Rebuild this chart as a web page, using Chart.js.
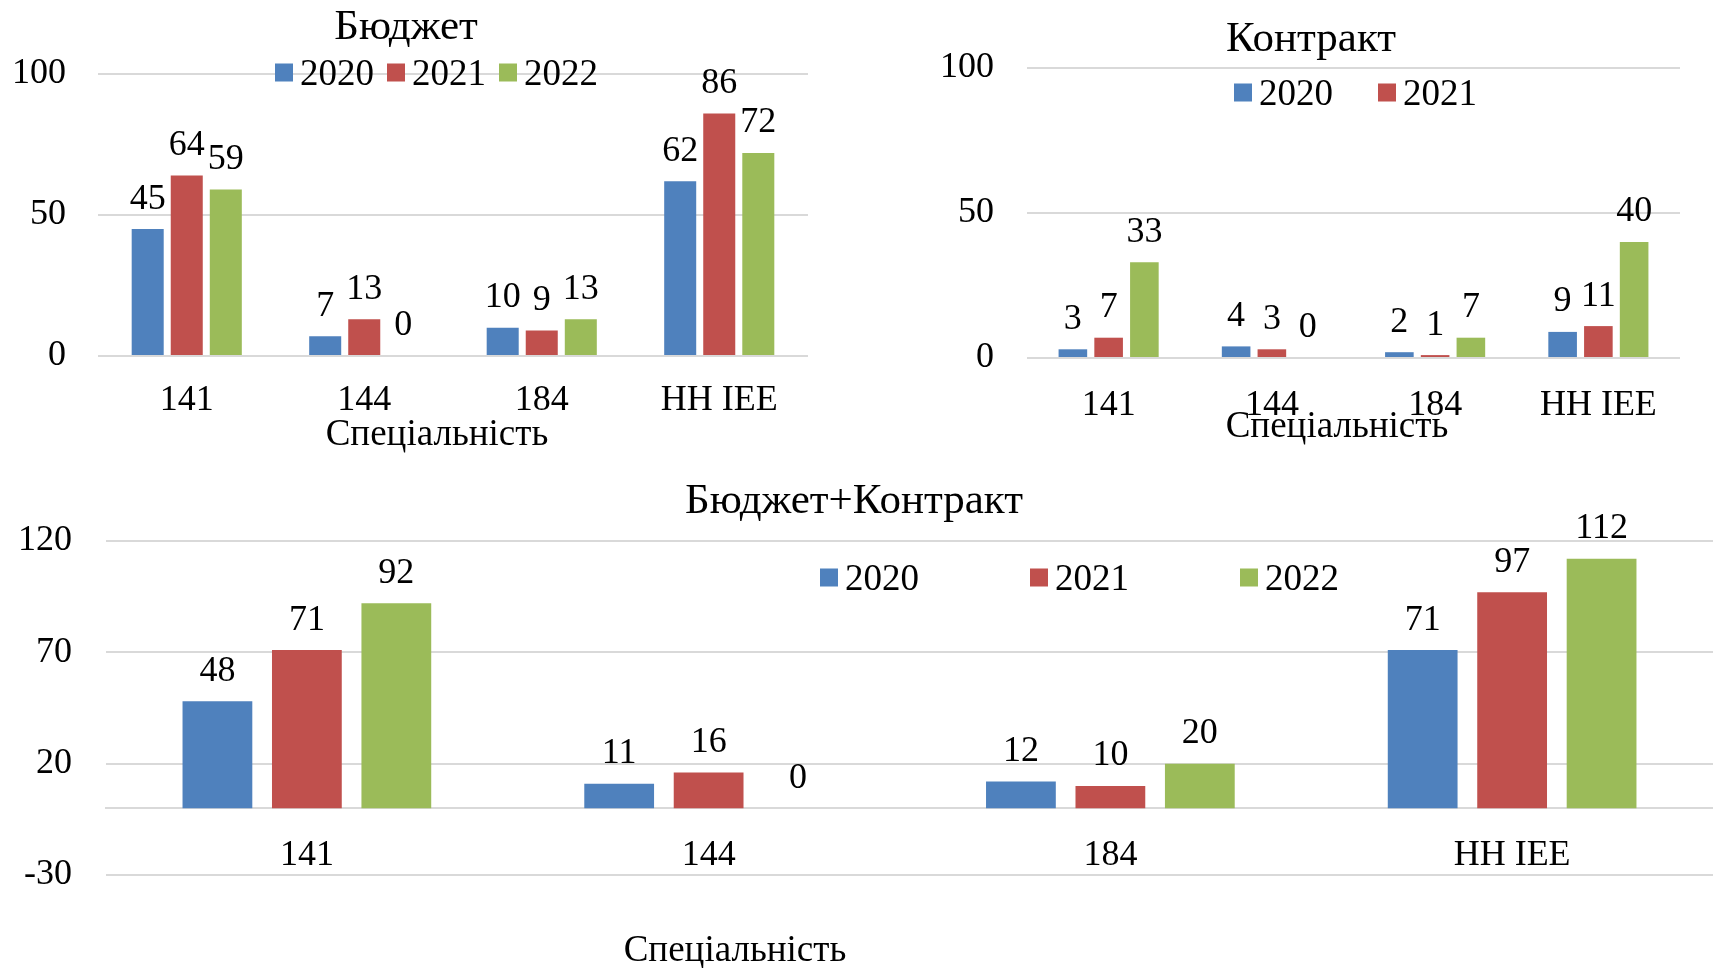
<!DOCTYPE html>
<html>
<head>
<meta charset="utf-8">
<script src="https://cdn.jsdelivr.net/npm/chart.js@4.4.1/dist/chart.umd.min.js"></script>
<style>
  html, body { margin: 0; padding: 0; background: #fff; }
  body { width: 1713px; height: 968px; position: relative; overflow: hidden;
         font-family: "Liberation Serif", "Times New Roman", serif; color: #000; }
  canvas { position: absolute; }
  .txt { position: absolute; transform: translate(-50%, -50%); line-height: 1; white-space: nowrap; }
  .title { font-size: 43px; }
  .axis-title { font-size: 37px; }
  .legend { position: absolute; display: flex; align-items: center; font-size: 37px; line-height: 1;
            transform: translateY(-50%); white-space: nowrap; }
  .legend .item { display: flex; align-items: center; }
  .legend .box { width: 18px; height: 18px; margin-right: 7px; }
</style>
</head>
<body>
<canvas id="budgetChart" width="850" height="460" style="left:0;top:0"></canvas>
<canvas id="contractChart" width="853" height="460" style="left:860px;top:0"></canvas>
<canvas id="totalChart" width="1713" height="508" style="left:0;top:460px"></canvas>

<div class="txt title" style="left:406px;top:24px">Бюджет</div>
<div class="txt title" style="left:1311px;top:36px">Контракт</div>
<div class="txt title" style="left:854px;top:498px">Бюджет+Контракт</div>

<div class="txt axis-title" style="left:437px;top:432px">Спеціальність</div>
<div class="txt axis-title" style="left:1337px;top:424px">Спеціальність</div>
<div class="txt axis-title" style="left:735px;top:948px">Спеціальність</div>

<div id="budgetLegend" class="legend" style="left:275px;top:72px"></div>
<div id="contractLegend" class="legend" style="left:1234px;top:92px"></div>
<div id="totalLegend" class="legend" style="left:820px;top:577px"></div>

<script>
// ---------- дані ----------
const categories = ['141', '144', '184', 'НН ІЕЕ'];
const years = ['2020', '2021', '2022'];
const colors = ['#4f81bd', '#c0504d', '#9bbb59'];

// Бюджет
const budget2020 = [45, 7, 10, 62];
const budget2021 = [64, 13, 9, 86];
const budget2022 = [59, 0, 13, 72];

// Контракт
const contract2020 = [3, 4, 2, 9];
const contract2021 = [7, 3, 1, 11];
const contract2022 = [33, 0, 7, 40];

// Бюджет+Контракт
const total2020 = [48, 11, 12, 71];
const total2021 = [71, 16, 10, 97];
const total2022 = [92, 0, 20, 112];

const FONT = '"Liberation Serif", "Times New Roman", serif';
Chart.defaults.font.family = FONT;
Chart.defaults.color = '#000';

// ---------- підписи значень над стовпцями ----------
const valueLabels = {
  id: 'valueLabels',
  afterDatasetsDraw(chart) {
    const ctx = chart.ctx;
    ctx.save();
    ctx.font = '36px ' + FONT;
    ctx.fillStyle = '#000';
    ctx.textAlign = 'center';
    ctx.textBaseline = 'middle';
    chart.data.datasets.forEach((ds, i) => {
      chart.getDatasetMeta(i).data.forEach((bar, j) => {
        ctx.fillText(String(ds.data[j]), bar.x, bar.y - 30);
      });
    });
    ctx.restore();
  }
};

function renderLegend(id, count, gap) {
  const el = document.getElementById(id);
  el.innerHTML = years.slice(0, count).map((y, i) => `
    <div class="item" style="margin-right:${i < count - 1 ? gap : 0}px">
      <div class="box" style="background:${colors[i]}"></div><span>${y}</span>
    </div>`).join('');
}

function barChart(id, series, cfg) {
  return new Chart(document.getElementById(id), {
    type: 'bar',
    data: {
      labels: categories,
      datasets: series.map((data, i) => ({
        label: years[i],
        data,
        backgroundColor: colors[i],
        borderWidth: 0,
        categoryPercentage: cfg.catPct,
        barPercentage: cfg.barPct,
      })),
    },
    options: {
      responsive: false,
      animation: false,
      layout: { padding: cfg.padding },
      plugins: { legend: { display: false }, tooltip: { enabled: false } },
      scales: {
        x: {
          position: cfg.xPosition || 'bottom',
          grid: { display: false, drawTicks: false },
          border: cfg.xBorder || { display: false },
          ticks: { font: { size: 36 }, padding: cfg.xPad, maxRotation: 0, autoSkip: false },
          afterFit: s => { if (cfg.xHeight) s.height = cfg.xHeight; },
        },
        y: {
          min: cfg.min,
          max: cfg.max,
          ticks: { stepSize: cfg.step, font: { size: 36 }, padding: cfg.yPad },
          grid: { color: '#d9d9d9', lineWidth: 2, drawTicks: false },
          border: { display: false },
          afterFit: s => { s.width = cfg.yWidth; },
        },
      },
    },
    plugins: [valueLabels],
  });
}

// ---------- побудова ----------
barChart('budgetChart', [budget2020, budget2021, budget2022], {
  min: 0, max: 100, step: 50,
  padding: { top: 74, right: 42, left: 0, bottom: 0 },
  yWidth: 98, yPad: 32, xHeight: 104, xPad: 23,
  catPct: 0.66, barPct: 0.82,
});

barChart('contractChart', [contract2020, contract2021, contract2022], {
  min: 0, max: 100, step: 50,
  padding: { top: 68, right: 33, left: 0, bottom: 0 },
  yWidth: 167, yPad: 33, xHeight: 102, xPad: 26,
  catPct: 0.657, barPct: 0.8,
});

barChart('totalChart', [total2020, total2021, total2022], {
  min: -30, max: 120, step: 50,
  padding: { top: 81, right: 0, left: 0, bottom: 93 },
  yWidth: 106, yPad: 34, xPad: 26,
  xPosition: { y: 0 },
  xBorder: { display: true, color: '#d9d9d9', width: 2 },
  catPct: 0.668, barPct: 0.78,
});

renderLegend('budgetLegend', 3, 13);
renderLegend('contractLegend', 2, 45);   // у легенді лише 2020 та 2021
renderLegend('totalLegend', 3, 111);
</script>
</body>
</html>
